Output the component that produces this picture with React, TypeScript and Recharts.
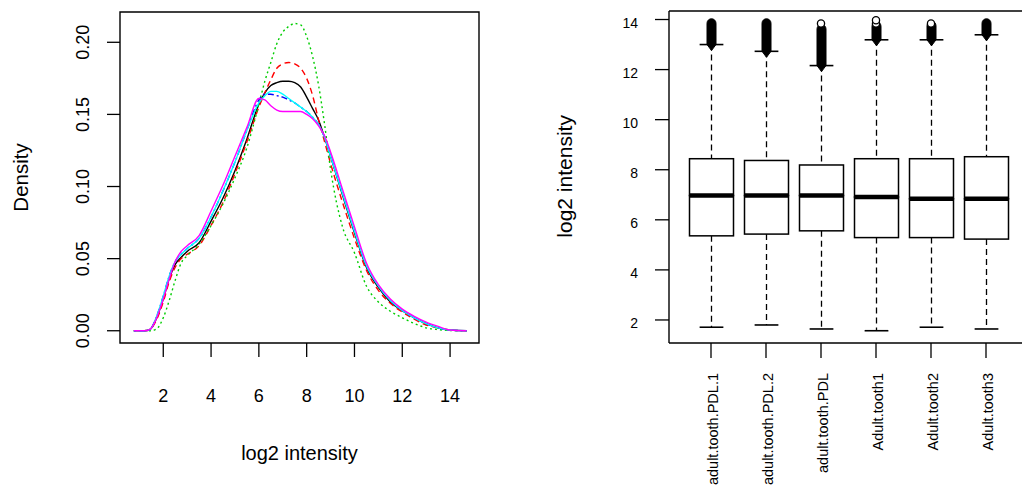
import React from 'react';
import { LineChart, Line, XAxis, YAxis, ReferenceArea, ReferenceLine, ComposedChart, Bar, Scatter } from 'recharts';

const FONT = '"Liberation Sans", Arial, Helvetica, sans-serif';

// density panel: x = log2 intensity, one density array per sample
const intensity = [0.77, 1.2, 1.45, 1.7, 2.0, 2.25, 2.5, 2.75, 3.0, 3.5, 4.0, 4.5, 5.0, 5.5, 6.0, 6.25, 6.5, 6.75, 7.0, 7.25, 7.5, 7.75, 8.0, 8.25, 8.5, 8.75, 9.0, 9.5, 10.0, 10.5, 11.0, 11.5, 12.0, 12.5, 13.0, 13.5, 14.0, 14.69];
const densPDL1 = [0, 0, 0.001, 0.008, 0.022, 0.036, 0.046, 0.051, 0.055, 0.061, 0.076, 0.092, 0.111, 0.133, 0.157, 0.165, 0.170, 0.172, 0.173, 0.173, 0.172, 0.169, 0.162, 0.154, 0.146, 0.134, 0.121, 0.094, 0.068, 0.044, 0.030, 0.020, 0.014, 0.009, 0.005, 0.002, 0.0005, 0];
const densPDL2 = [0, 0, 0.001, 0.007, 0.020, 0.034, 0.044, 0.050, 0.053, 0.059, 0.073, 0.089, 0.109, 0.131, 0.155, 0.165, 0.174, 0.182, 0.185, 0.186, 0.185, 0.182, 0.175, 0.163, 0.146, 0.131, 0.116, 0.089, 0.064, 0.042, 0.028, 0.019, 0.013, 0.008, 0.004, 0.002, 0.0005, 0];
const densPDL = [0, 0, 0, 0.001, 0.009, 0.021, 0.035, 0.047, 0.052, 0.060, 0.073, 0.088, 0.106, 0.127, 0.157, 0.173, 0.186, 0.199, 0.207, 0.211, 0.213, 0.212, 0.204, 0.190, 0.170, 0.143, 0.112, 0.072, 0.054, 0.031, 0.020, 0.0135, 0.009, 0.005, 0.002, 0.0008, 0.0002, 0];
const densTooth1 = [0, 0, 0.001, 0.009, 0.024, 0.038, 0.048, 0.053, 0.057, 0.064, 0.079, 0.097, 0.117, 0.139, 0.160, 0.164, 0.164, 0.163, 0.162, 0.160, 0.158, 0.155, 0.152, 0.148, 0.143, 0.134, 0.121, 0.095, 0.069, 0.045, 0.031, 0.021, 0.014, 0.009, 0.005, 0.002, 0.0005, 0];
const densTooth2 = [0, 0, 0.001, 0.009, 0.024, 0.038, 0.048, 0.053, 0.057, 0.064, 0.079, 0.097, 0.117, 0.139, 0.158, 0.163, 0.166, 0.166, 0.164, 0.161, 0.158, 0.155, 0.152, 0.148, 0.143, 0.134, 0.121, 0.095, 0.069, 0.045, 0.031, 0.021, 0.014, 0.009, 0.005, 0.002, 0.0005, 0];
const densTooth3 = [0, 0, 0.001, 0.008, 0.022, 0.036, 0.048, 0.055, 0.059, 0.066, 0.083, 0.101, 0.121, 0.141, 0.161, 0.160, 0.156, 0.153, 0.152, 0.152, 0.152, 0.152, 0.150, 0.147, 0.142, 0.135, 0.124, 0.098, 0.072, 0.047, 0.032, 0.022, 0.015, 0.010, 0.006, 0.003, 0.0005, 0];

const densXTicks = [2, 4, 6, 8, 10, 12, 14];
const densYTicks = [0, 0.05, 0.1, 0.15, 0.2];
const densXDomain = [0.19, 15.21];
const densYDomain = [-0.0085, 0.221];

// boxplot panel
const sampleNames = ['adult.tooth.PDL.1', 'adult.tooth.PDL.2', 'adult.tooth.PDL', 'Adult.tooth1', 'Adult.tooth2', 'Adult.tooth3'];
const whiskerLow = [1.71, 1.80, 1.64, 1.57, 1.71, 1.64];
const quart1 = [5.36, 5.43, 5.56, 5.29, 5.29, 5.23];
const medians = [6.97, 6.97, 6.97, 6.91, 6.84, 6.84];
const quart3 = [8.44, 8.37, 8.19, 8.44, 8.44, 8.52];
const whiskerHigh = [13.0, 12.73, 12.16, 13.19, 13.19, 13.39];
const outlierDenseTop = [13.85, 13.85, 13.62, 13.73, 13.75, 13.85];
const outlierSparseA = [null, null, 13.84, 13.84, 13.84, null];
const outlierSparseB = [null, null, null, 13.97, null, null];

const boxYTicks = [2, 4, 6, 8, 10, 12, 14];
const boxYDomain = [1.08, 14.34];

const series = [
  { key: 's1', color: '#000000', dash: undefined },
  { key: 's2', color: '#FF0000', dash: '6 4' },
  { key: 's3', color: '#00CD00', dash: '2 3' },
  { key: 's4', color: '#0000FF', dash: '2 3 6 3' },
  { key: 's5', color: '#00FFFF', dash: undefined },
  { key: 's6', color: '#FF00FF', dash: undefined },
];

const densityData = intensity.map((x, i) => ({
  x,
  s1: densPDL1[i],
  s2: densPDL2[i],
  s3: densPDL[i],
  s4: densTooth1[i],
  s5: densTooth2[i],
  s6: densTooth3[i],
}));

const boxData = sampleNames.map((name, i) => ({
  name,
  base: whiskerLow[i],
  lowWhisker: quart1[i] - whiskerLow[i],
  lowBox: medians[i] - quart1[i],
  highBox: quart3[i] - medians[i],
  highWhisker: whiskerHigh[i] - quart3[i],
  outliers: outlierDenseTop[i] - whiskerHigh[i],
  sparseA: outlierSparseA[i],
  sparseB: outlierSparseB[i],
}));

const DensXTick = ({ x, y, payload }: any) => (
  <text x={x} y={y + 13} textAnchor="middle" fontSize={18} fontFamily={FONT} fill="#000">
    {payload.value}
  </text>
);

const DensYTick = ({ x, y, payload }: any) => (
  <text transform={`translate(${x - 16.5},${y}) rotate(-90)`} textAnchor="middle" fontSize={18} fontFamily={FONT} fill="#000">
    {Number(payload.value).toFixed(2)}
  </text>
);

const BoxYTick = ({ x, y, payload }: any) => (
  <text x={x} y={y + 8} textAnchor="end" fontSize={14} fontFamily={FONT} fill="#000">
    {payload.value}
  </text>
);

const BoxXTick = ({ x, y, payload }: any) => (
  <text transform={`translate(${x + 6.5},${y + 15}) rotate(-90)`} textAnchor="end" fontSize={14.5} fontFamily={FONT} fill="#000">
    {payload.value}
  </text>
);

const WhiskerLowShape = ({ x, y, width, height }: any) => {
  const cx = x + width / 2;
  const cap = width * 0.27;
  return (
    <g>
      <line x1={cx} x2={cx} y1={y} y2={y + height} stroke="#000" strokeWidth={1.3} strokeDasharray="6 4" />
      <line x1={cx - cap} x2={cx + cap} y1={y + height} y2={y + height} stroke="#000" strokeWidth={1.6} />
    </g>
  );
};

const WhiskerHighShape = ({ x, y, width, height }: any) => {
  const cx = x + width / 2;
  const cap = width * 0.27;
  return (
    <g>
      <line x1={cx} x2={cx} y1={y} y2={y + height} stroke="#000" strokeWidth={1.3} strokeDasharray="6 4" />
      <line x1={cx - cap} x2={cx + cap} y1={y} y2={y} stroke="#000" strokeWidth={1.6} />
    </g>
  );
};

const LowBoxShape = ({ x, y, width, height }: any) => (
  <rect x={x} y={y} width={width} height={height} fill="#fff" stroke="#000" strokeWidth={1.5} />
);

const HighBoxShape = ({ x, y, width, height }: any) => (
  <g>
    <rect x={x} y={y} width={width} height={height} fill="#fff" stroke="#000" strokeWidth={1.5} />
    <line x1={x} x2={x + width} y1={y + height} y2={y + height} stroke="#000" strokeWidth={4.5} />
  </g>
);

const OutlierShape = ({ x, y, width, height }: any) => {
  const cx = x + width / 2;
  const r = 4.5;
  const bottom = y + height;
  return (
    <path
      d={`M${cx - r},${y} A${r},${r} 0 0 1 ${cx + r},${y} L${cx + r},${bottom} L${cx},${bottom + 6} L${cx - r},${bottom} Z`}
      fill="#000"
      stroke="#000"
      strokeWidth={1}
    />
  );
};

const sparseShape = (key: string) => (p: any) => {
  if (p.payload == null || p.payload[key] == null) return <g />;
  return <circle cx={p.cx} cy={p.cy} r={3.6} fill="#fff" stroke="#000" strokeWidth={1.3} />;
};

function DensityPanel() {
  return (
    <LineChart width={490} height={492} data={densityData} margin={{ top: 12, right: 11, left: 60, bottom: 89 }}>
      <XAxis
        dataKey="x"
        type="number"
        domain={densXDomain}
        ticks={densXTicks}
        allowDataOverflow
        height={60}
        axisLine={false}
        tickSize={14}
        tickMargin={32}
        tickLine={{ stroke: '#000', strokeWidth: 1.3 }}
        tick={<DensXTick />}
        interval={0}
      />
      <YAxis
        type="number"
        domain={densYDomain}
        ticks={densYTicks}
        allowDataOverflow
        width={60}
        axisLine={false}
        tickSize={13}
        tickMargin={2}
        tickLine={{ stroke: '#000', strokeWidth: 1.3 }}
        tick={<DensYTick />}
        interval={0}
      />
      <ReferenceArea
        x1={densXDomain[0]}
        x2={densXDomain[1]}
        y1={densYDomain[0]}
        y2={densYDomain[1]}
        fill="none"
        fillOpacity={0}
        stroke="#000"
        strokeWidth={1.4}
      />
      {series.map(s => (
        <Line
          key={s.key}
          type="monotone"
          dataKey={s.key}
          stroke={s.color}
          strokeWidth={1.4}
          strokeDasharray={s.dash}
          dot={false}
          isAnimationActive={false}
        />
      ))}
    </LineChart>
  );
}

function BoxPanel() {
  return (
    <ComposedChart width={473} height={492} data={boxData} margin={{ top: 11, right: 5, left: 49, bottom: 89 }}>
      <XAxis
        dataKey="name"
        type="category"
        allowDuplicatedCategory={false}
        padding={{ left: 14.5, right: 14.5 }}
        height={60}
        axisLine={{ stroke: '#000', strokeWidth: 1.4 }}
        tickSize={15}
        tickMargin={0}
        tickLine={{ stroke: '#000', strokeWidth: 1.3 }}
        tick={<BoxXTick />}
        interval={0}
      />
      <YAxis
        type="number"
        domain={boxYDomain}
        ticks={boxYTicks}
        allowDataOverflow
        width={60}
        axisLine={{ stroke: '#000', strokeWidth: 1.4 }}
        tickSize={14}
        tickMargin={17}
        tickLine={{ stroke: '#000', strokeWidth: 1.3 }}
        tick={<BoxYTick />}
        interval={0}
      />
      <ReferenceLine y={boxYDomain[1]} stroke="#000" strokeWidth={1.4} />
      <Bar dataKey="base" stackId="box" barSize={44} fill="none" isAnimationActive={false} shape={() => <g />} />
      <Bar dataKey="lowWhisker" stackId="box" barSize={44} isAnimationActive={false} shape={<WhiskerLowShape />} />
      <Bar dataKey="lowBox" stackId="box" barSize={44} isAnimationActive={false} shape={<LowBoxShape />} />
      <Bar dataKey="highBox" stackId="box" barSize={44} isAnimationActive={false} shape={<HighBoxShape />} />
      <Bar dataKey="highWhisker" stackId="box" barSize={44} isAnimationActive={false} shape={<WhiskerHighShape />} />
      <Bar dataKey="outliers" stackId="box" barSize={44} isAnimationActive={false} shape={<OutlierShape />} />
      <Scatter dataKey="sparseA" isAnimationActive={false} shape={sparseShape('sparseA')} />
      <Scatter dataKey="sparseB" isAnimationActive={false} shape={sparseShape('sparseB')} />
    </ComposedChart>
  );
}

export default function App() {
  return (
    <div style={{ position: 'absolute', left: 0, top: 0, width: 1022, height: 492, overflow: 'hidden', background: '#fff' }}>
      <div style={{ position: 'absolute', left: 0, top: 0 }}>
        <DensityPanel />
      </div>
      <div style={{ position: 'absolute', left: 560, top: 0 }}>
        <BoxPanel />
      </div>
      <svg width={1022} height={492} style={{ position: 'absolute', left: 0, top: 0, pointerEvents: 'none' }}>
        <text transform="translate(27.8,177.5) rotate(-90)" textAnchor="middle" fontSize={20.5} fontFamily={FONT} fill="#000">
          Density
        </text>
        <text x={299.5} y={460.3} textAnchor="middle" fontSize={20} fontFamily={FONT} fill="#000">
          log2 intensity
        </text>
        <text transform="translate(572.3,176.4) rotate(-90)" textAnchor="middle" fontSize={21} fontFamily={FONT} fill="#000">
          log2 intensity
        </text>
      </svg>
    </div>
  );
}
